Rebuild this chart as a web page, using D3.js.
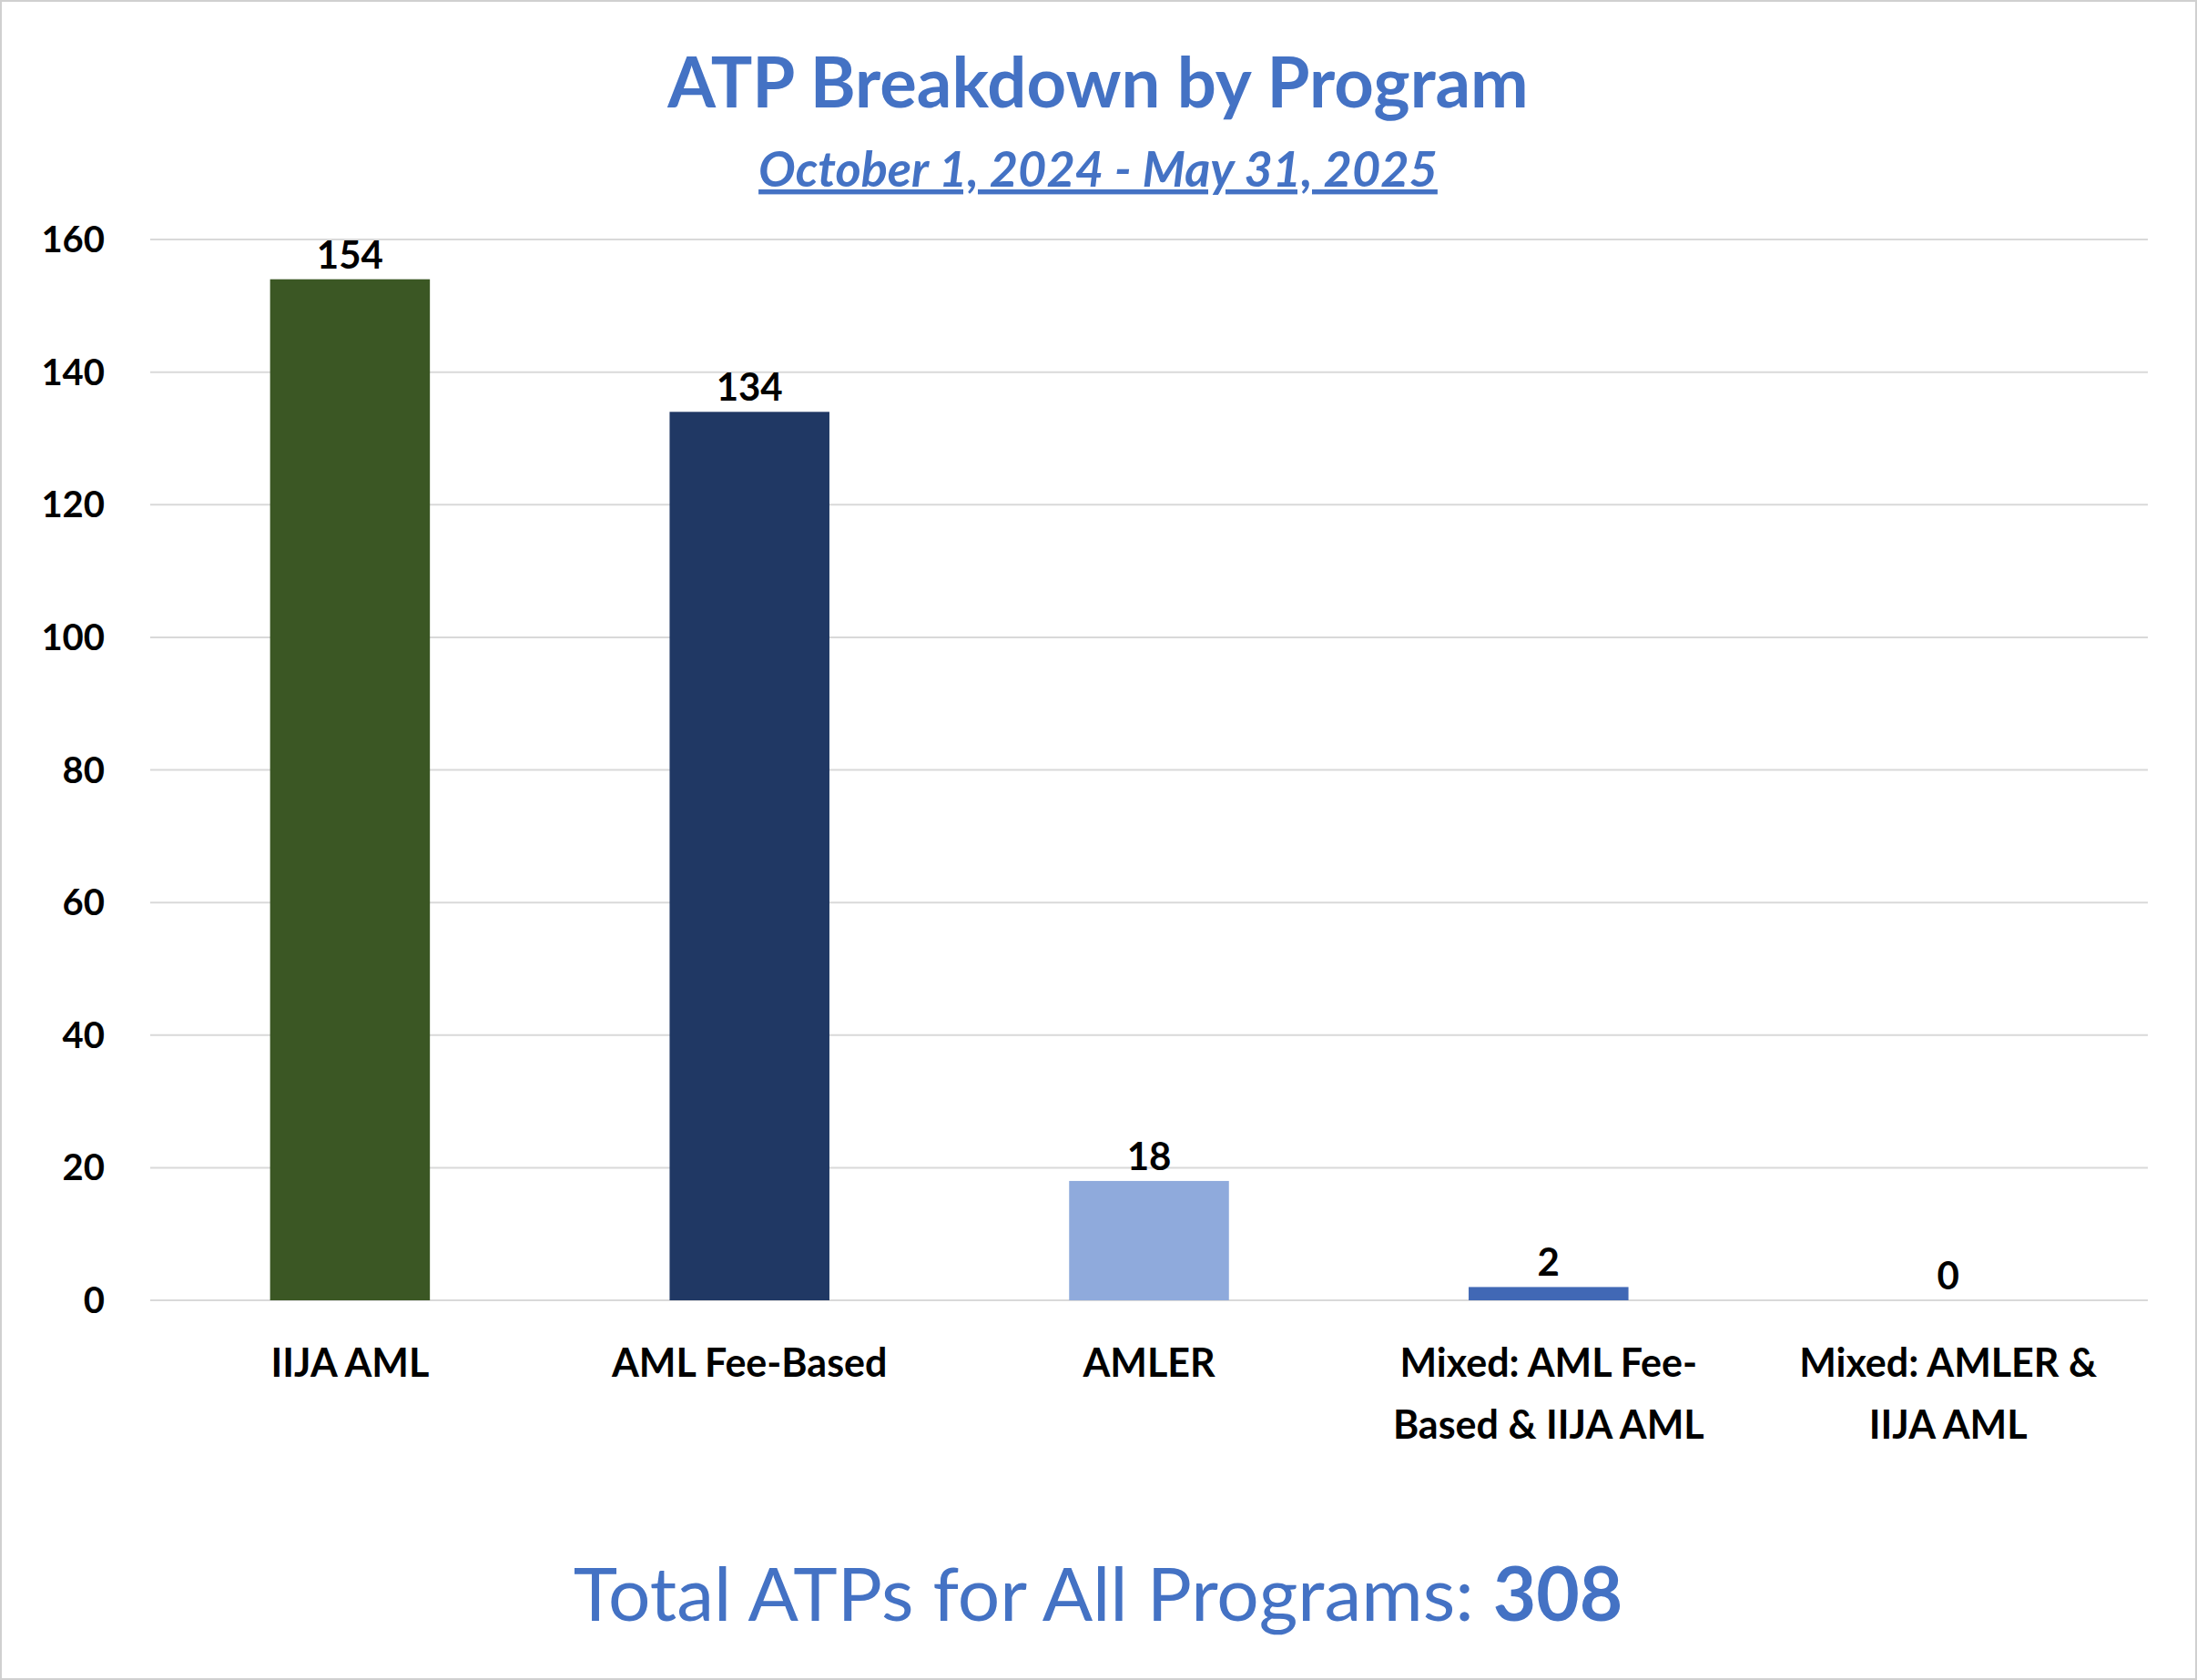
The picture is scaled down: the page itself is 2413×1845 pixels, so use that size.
<!DOCTYPE html>
<html><head><meta charset="utf-8">
<script src="https://cdn.jsdelivr.net/npm/d3@7"></script>
<style>body{margin:0;background:#fff}</style></head>
<body><svg id="c" width="2413" height="1845"></svg>
<script>
const categories = [["IIJA AML"],["AML Fee-Based"],["AMLER"],["Mixed: AML Fee-","Based & IIJA AML"],["Mixed: AMLER &","IIJA AML"]];
const values = [154,134,18,2,0];
const colors = ["#3b5724","#203864","#8faadc","#4168b5","#4472c4"];
const yTicks = [0,20,40,60,80,100,120,140,160];
const font = "Lato, 'Open Sans', sans-serif";
const svg = d3.select("#c");
svg.append("rect").attr("x",1).attr("y",1).attr("width",2411).attr("height",1843).attr("fill","#fff").attr("stroke","#d0d0d0").attr("stroke-width",2);
const x = d3.scaleBand().domain(d3.range(values.length)).range([165,2359]).paddingInner(0.6).paddingOuter(0.3);
const y = d3.scaleLinear().domain([0,160]).range([1428,263]);
svg.append("g").selectAll("line").data(yTicks).join("line")
 .attr("x1",165).attr("x2",2359).attr("y1",d=>y(d)).attr("y2",d=>y(d)).attr("stroke","#d9d9d9").attr("stroke-width",2);
svg.append("g").selectAll("text").data(yTicks).join("text")
 .attr("x",115).attr("y",d=>y(d)+14).attr("text-anchor","end").attr("font-family",font).attr("font-weight","bold").attr("font-size",40).text(d=>d);
svg.append("g").selectAll("rect").data(values).join("rect")
 .attr("x",(d,i)=>x(i)).attr("width",x.bandwidth()).attr("y",d=>y(d)).attr("height",d=>y(0)-y(d)).attr("fill",(d,i)=>colors[i]);
svg.append("g").selectAll("text").data(values).join("text")
 .attr("x",(d,i)=>x(i)+x.bandwidth()/2).attr("y",d=>y(d)-12).attr("text-anchor","middle").attr("font-family",font).attr("font-weight","bold").attr("font-size",42).text(d=>d);
categories.forEach((lines,i)=>{
 lines.forEach((t,j)=>svg.append("text").attr("x",x(i)+x.bandwidth()/2).attr("y",1512+j*68).attr("text-anchor","middle")
  .attr("font-family",font).attr("font-weight","bold").attr("font-size",43).text(t));
});
svg.append("text").attr("x",1206).attr("y",118).attr("text-anchor","middle").attr("font-family",font).attr("font-weight","bold").attr("font-size",76).attr("fill","#4472c4").text("ATP Breakdown by Program");
svg.append("text").attr("x",1206).attr("y",205).attr("text-anchor","middle").attr("font-family",font).attr("font-weight","bold").attr("font-style","italic").attr("font-size",54).attr("fill","#4472c4").attr("text-decoration","underline").text("October 1, 2024 - May 31, 2025");
const tt = svg.append("text").attr("x",1206).attr("y",1780).attr("text-anchor","middle").attr("font-family",font).attr("font-size",82).attr("fill","#4472c4");
tt.append("tspan").text("Total ATPs for All Programs: ");
tt.append("tspan").attr("font-weight","bold").text(d3.sum(values));
</script></body></html>
